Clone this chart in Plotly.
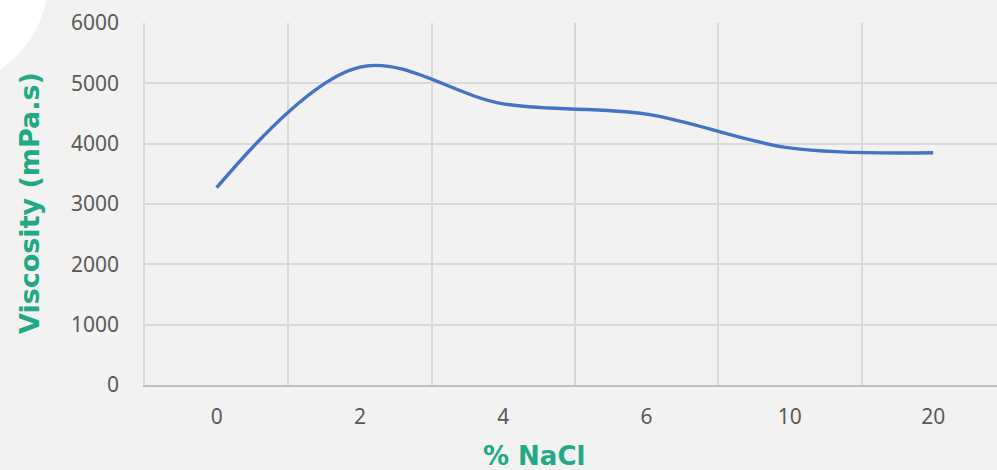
import plotly.graph_objects as go

categories = ["0", "2", "4", "6", "10", "20"]
viscosity = [3270, 5270, 4660, 4490, 3930, 3850]
y_ticks = [0, 1000, 2000, 3000, 4000, 5000, 6000]

W, H = 997, 470
ML, MR, MT, MB = 145, 0, 23, 85
PW = W - ML - MR
PH = H - MT - MB
cat_px = 143.3

def px(x):
    return (x - ML) / PW

def py(y):
    return (H - MB - y) / PH

fig = go.Figure()
fig.add_trace(go.Scatter(
    x=categories, y=viscosity, mode="lines",
    line=dict(color="#4472c4", width=3.4, shape="spline", smoothing=1.0),
    hoverinfo="x+y", showlegend=False,
))

fig.update_layout(
    width=W, height=H,
    margin=dict(l=ML, r=MR, t=MT, b=MB, pad=0),
    paper_bgcolor="#f2f2f2", plot_bgcolor="#f2f2f2",
    font=dict(family="Noto Sans, Open Sans, sans-serif", color="#595959", size=21),
    xaxis=dict(
        type="category", tickson="boundaries",
        range=[-0.5, -0.5 + PW / cat_px],
        showgrid=True, gridcolor="#d9d9d9", gridwidth=1.5,
        showline=True, linecolor="#bfbfbf", linewidth=1.5,
        ticks="", ticklabelstandoff=12, zeroline=False,
        tickfont=dict(size=21, color="#595959"),
    ),
    yaxis=dict(
        range=[0, 6000], tickvals=y_ticks,
        showgrid=True, gridcolor="#d9d9d9", gridwidth=1.5,
        showline=True, linecolor="#d9d9d9", linewidth=1.5,
        ticks="", ticklabelstandoff=20, zeroline=False,
        tickfont=dict(size=21, color="#595959"),
    ),
    shapes=[dict(
        type="circle", xref="paper", yref="paper",
        x0=px(-168), x1=px(48), y0=py(88), y1=py(-128),
        fillcolor="white", line=dict(width=0), layer="below",
    )],
    annotations=[
        dict(text="<b>% NaCl</b>", xref="paper", yref="paper",
             x=px(534), y=py(456), xanchor="center", yanchor="middle",
             showarrow=False, font=dict(family="DejaVu Sans, sans-serif", size=26, color="#21a884")),
        dict(text="<b>Viscosity (mPa.s)</b>", xref="paper", yref="paper",
             x=px(30), y=py(203), xanchor="center", yanchor="middle", textangle=-90,
             showarrow=False, font=dict(family="DejaVu Sans, sans-serif", size=27, color="#21a884")),
    ],
)

fig.write_html("out.html", config={"displayModeBar": False},
               post_script="document.body.style.margin='0';document.body.style.padding='0';")
